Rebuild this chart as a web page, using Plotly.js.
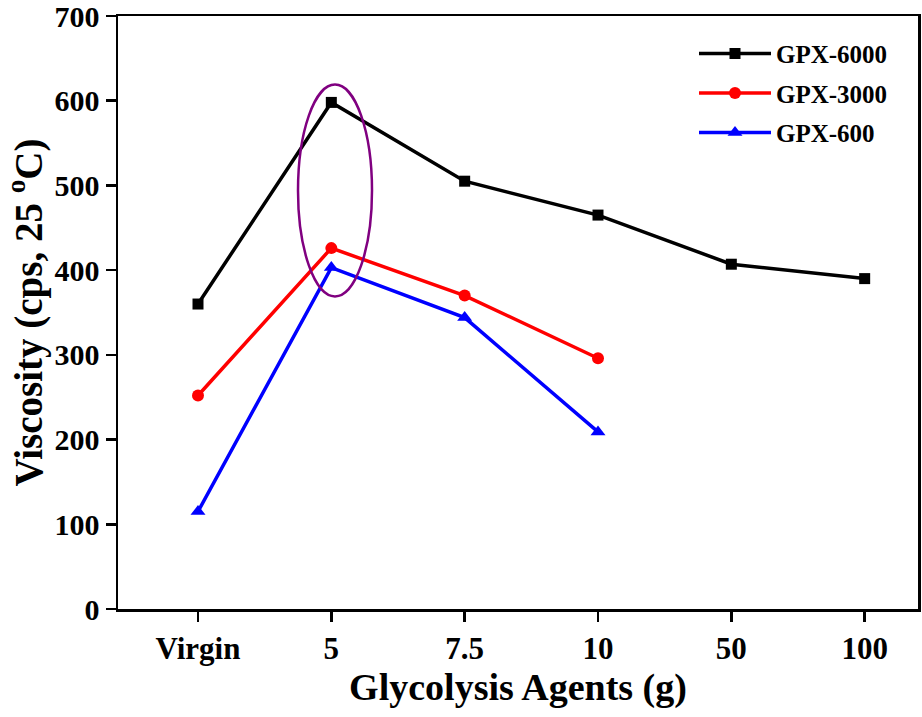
<!DOCTYPE html>
<html>
<head>
<meta charset="utf-8">
<script src="https://cdn.plot.ly/plotly-3.0.1.min.js"></script>
<style>html,body{margin:0;padding:0;background:#fff;}#chart{width:922px;height:717px;}</style>
</head>
<body>
<div id="chart"></div>
<script>
const categories = ["Virgin", "5", "7.5", "10", "50", "100"];
const gpx6000 = [360, 598, 505, 465, 407, 390];
const gpx3000 = [252, 426, 370, 296];
const gpx600 = [115, 403, 344, 209];
const yTicks = [0, 100, 200, 300, 400, 500, 600, 700];

const font = "Liberation Serif, Times New Roman, serif";

const traces = [
  {name: "GPX-6000", x: categories, y: gpx6000, color: "#000000", symbol: "square", size: 11},
  {name: "GPX-3000", x: categories.slice(0, gpx3000.length), y: gpx3000, color: "#ff0000", symbol: "circle", size: 12},
  {name: "GPX-600", x: categories.slice(0, gpx600.length), y: gpx600, color: "#0000ff", symbol: "triangle-up", size: 13}
].map(t => ({
  type: "scatter", mode: "lines+markers", name: t.name, x: t.x, y: t.y,
  legendgroup: t.name,
  line: {color: t.color, width: 3.5},
  marker: {color: t.color, symbol: t.symbol, size: t.size}
}));

const layout = {
  width: 922, height: 717,
  margin: {l: 118, r: 4, t: 16, b: 108},
  paper_bgcolor: "#fff", plot_bgcolor: "#fff",
  font: {family: font, color: "#000", weight: "bold"},
  showlegend: true,
  legend: {
    x: 0.72, y: 0.975, xanchor: "left", yanchor: "top",
    font: {family: font, size: 25, color: "#000", weight: "bold"},
    bgcolor: "rgba(0,0,0,0)", itemwidth: 72, tracegroupgap: 4,
    traceorder: "grouped"
  },
  xaxis: {
    type: "category", range: [-0.6, 5.4],
    showline: true, mirror: true, linecolor: "#000", linewidth: 2.5,
    ticks: "outside", ticklen: 10, tickwidth: 2.5, tickcolor: "#000",
    showgrid: false, zeroline: false, ticklabeloverflow: "allow",
    tickfont: {family: font, size: 31, color: "#000", weight: "bold"},
    title: {text: "Glycolysis Agents (g)", font: {family: font, size: 38, color: "#000", weight: "bold"}, standoff: 8}
  },
  yaxis: {
    range: [0, 700], tickvals: yTicks,
    showline: true, mirror: true, linecolor: "#000", linewidth: 2.5,
    ticks: "outside", ticklen: 10, tickwidth: 2.5, tickcolor: "#000",
    showgrid: false, zeroline: false, ticklabeloverflow: "allow",
    tickfont: {family: font, size: 30, color: "#000", weight: "bold"}
  },
  annotations: [{
    text: "Viscosity (cps, 25 <sup>o</sup>C)",
    xref: "paper", yref: "paper", x: -0.115, y: 0.5,
    xanchor: "center", yanchor: "middle", textangle: -90, showarrow: false,
    borderpad: 0,
    font: {family: font, size: 39, color: "#000", weight: "bold"}
  }],
  shapes: [{
    type: "circle", xref: "x", yref: "y",
    x0: 0.75, x1: 1.305, y0: 369, y1: 619,
    line: {color: "#800080", width: 2.5}
  }]
};

Plotly.newPlot("chart", traces, layout, {displayModeBar: false, staticPlot: true});
</script>
</body>
</html>
